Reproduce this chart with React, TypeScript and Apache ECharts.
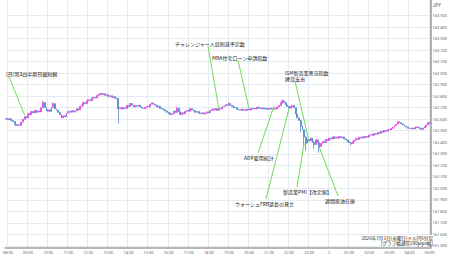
import React, { useEffect, useRef } from 'react';
import * as echarts from 'echarts';

// ---- data ----
const START_MINUTES = 7 * 60 + 55; // first candle 07:55
const STEP_MIN = 5;
const FIRST_OPEN = 162.6;

const CLOSES = [
  162.606, 162.596, 162.604, 162.588, 162.580, 162.556, 162.545, 162.552, 162.548, 162.575,
  162.600, 162.622, 162.612, 162.650, 162.640, 162.668, 162.655, 162.676, 162.660, 162.672,
  162.664, 162.700, 162.745, 162.702, 162.670, 162.682, 162.668, 162.704, 162.735, 162.690,
  162.678, 162.660, 162.640, 162.612, 162.630, 162.620, 162.654, 162.668, 162.660, 162.675,
  162.662, 162.672, 162.690, 162.680, 162.712, 162.722, 162.744, 162.735, 162.760, 162.768,
  162.760, 162.782, 162.790, 162.784, 162.805, 162.812, 162.824, 162.815, 162.822, 162.808,
  162.812, 162.798, 162.804, 162.790, 162.796, 162.782, 162.778, 162.690, 162.700, 162.688,
  162.700, 162.694, 162.718, 162.710, 162.736, 162.722, 162.706, 162.718, 162.712, 162.722,
  162.705, 162.696, 162.690, 162.702, 162.712, 162.706, 162.730, 162.742, 162.730, 162.722,
  162.706, 162.712, 162.694, 162.688, 162.680, 162.672, 162.660, 162.652, 162.640, 162.648,
  162.670, 162.660, 162.695, 162.665, 162.640, 162.656, 162.648, 162.668, 162.676, 162.670,
  162.692, 162.680, 162.674, 162.660, 162.666, 162.654, 162.648, 162.656, 162.645, 162.652,
  162.664, 162.656, 162.676, 162.688, 162.680, 162.692, 162.676, 162.694, 162.688, 162.706,
  162.712, 162.726, 162.718, 162.738, 162.722, 162.710, 162.698, 162.702, 162.684, 162.680,
  162.688, 162.676, 162.684, 162.678, 162.688, 162.680, 162.694, 162.688, 162.696, 162.690,
  162.706, 162.696, 162.690, 162.698, 162.688, 162.694, 162.686, 162.696, 162.690, 162.686,
  162.696, 162.690, 162.706, 162.718, 162.742, 162.760, 162.744, 162.724, 162.710, 162.696,
  162.710, 162.720, 162.700, 162.645, 162.612, 162.590, 162.540, 162.510, 162.445, 162.392,
  162.428, 162.412, 162.436, 162.398, 162.380, 162.422, 162.395, 162.362, 162.390, 162.408,
  162.398, 162.424, 162.416, 162.436, 162.428, 162.448, 162.434, 162.446, 162.436, 162.450,
  162.440, 162.446, 162.428, 162.420, 162.406, 162.398, 162.388, 162.404, 162.418, 162.432,
  162.426, 162.444, 162.436, 162.448, 162.440, 162.452, 162.446, 162.462, 162.468, 162.460,
  162.476, 162.470, 162.484, 162.478, 162.495, 162.488, 162.502, 162.496, 162.510, 162.506,
  162.520, 162.530, 162.545, 162.558, 162.578, 162.570, 162.560, 162.550, 162.540, 162.532,
  162.522, 162.518, 162.524, 162.516, 162.526, 162.534, 162.526, 162.520, 162.512, 162.524,
  162.535, 162.550, 162.572, 162.565,
];

// [candle index, high, low] for visible wicks
const WICKS: [number, number, number][] = [
  [22, 162.762, 162.700],
  [28, 162.748, 162.700],
  [46, 162.755, 162.715],
  [56, 162.830, 162.805],
  [67, 162.782, 162.563],
  [74, 162.742, 162.705],
  [102, 162.705, 162.655],
  [133, 162.745, 162.715],
  [165, 162.772, 162.735],
  [176, 162.585, 162.49],
  [178, 162.51, 162.37],
  [179, 162.45, 162.33],
  [184, 162.41, 162.345],
  [187, 162.42, 162.31],
  [206, 162.40, 162.372],
  [234, 162.585, 162.565],
];

const Y_TICKS = [
  161.5, 161.6, 161.7, 161.8, 161.9, 162.0, 162.1, 162.2, 162.3, 162.4, 162.5,
  162.6, 162.7, 162.8, 162.9, 163.0, 163.1, 163.2, 163.3, 163.4, 163.5,
];

const EVENTS = [
  { time: '08:50', price: 162.635, text: '[日]第2四半期日銀短観' },
  { time: '18:30', price: 162.693, text: 'チャレンジャー人員削減予定数' },
  { time: '20:00', price: 162.693, text: 'MBA住宅ローン申請指数' },
  { time: '23:00', price: 162.403, text: 'ISM製造業景況指数\n建設支出' },
  { time: '21:15', price: 162.715, text: 'ADP雇用統計' },
  { time: '22:00', price: 162.693, text: 'ウォーシュFRB議長の発言' },
  { time: '22:45', price: 162.39, text: '製造業PMI【改定値】' },
  { time: '23:30', price: 162.359, text: '週間原油在庫' },
];

const TITLE_LINES = ['2026年7月1日(水曜日)ドル円5分足', '[グラフ幅通常200pips幅]'];

// label layout in pixels: text top-left, leader line start
const LABEL_LAYOUT = [
  { tx: 6, ty: 70.5, lx: 9, ly: 77 },
  { tx: 175, ty: 40.5, lx: 208, ly: 46 },
  { tx: 212, ty: 54.5, lx: 238, ly: 60 },
  { tx: 285, ty: 70, lx: 295, ly: 81 },
  { tx: 244, ty: 154.5, lx: 258, ly: 153 },
  { tx: 235, ty: 200.5, lx: 266, ly: 199 },
  { tx: 283, ty: 188.5, lx: 297, ly: 187 },
  { tx: 325, ty: 197.5, lx: 338, ly: 196 },
];

function pad(n: number) {
  return n < 10 ? '0' + n : '' + n;
}

export default function App() {
  const ref = useRef<HTMLDivElement>(null);

  useEffect(() => {
    document.body.style.margin = '0';
    if (!ref.current) return;
    const chart = echarts.init(ref.current, undefined, { renderer: 'svg' });

    const times = CLOSES.map((_, i) => {
      const m = (START_MINUTES + i * STEP_MIN) % 1440;
      return pad(Math.floor(m / 60)) + ':' + pad(m % 60);
    });
    const wickMap: Record<number, [number, number]> = {};
    WICKS.forEach(([i, h, l]) => (wickMap[i] = [h, l]));
    const candles = CLOSES.map((c, i) => {
      const o = i === 0 ? FIRST_OPEN : CLOSES[i - 1];
      let hi = Math.max(o, c);
      let lo = Math.min(o, c);
      if (wickMap[i]) {
        hi = Math.max(hi, wickMap[i][0]);
        lo = Math.min(lo, wickMap[i][1]);
      }
      return [o, c, lo, hi];
    });

    const isHour = (_: number, v: string) => v.endsWith(':00');

    chart.setOption({
      animation: false,
      grid: { left: 0, right: 19, top: 0, bottom: 10, containLabel: false },
      xAxis: {
        type: 'category',
        data: times,
        boundaryGap: true,
        axisLine: { show: true, lineStyle: { color: '#b8b8b8', width: 2 } },
        axisTick: { show: false },
        axisLabel: {
          interval: isHour,
          fontSize: 4,
          color: '#666',
          margin: 2.5,
          fontFamily: 'Roboto',
          formatter: (v: string) => (v === '00:00' ? '2' : v),
        },
        splitLine: { show: true, interval: isHour, lineStyle: { color: '#e4ebf1', width: 1 } },
      },
      yAxis: {
        type: 'value',
        position: 'right',
        min: 161.4826,
        max: 163.6345,
        axisLine: { show: true, lineStyle: { color: '#9a9a9a', width: 1.5 } },
        axisTick: { show: false, customValues: Y_TICKS },
        axisLabel: {
          customValues: Y_TICKS,
          fontSize: 4,
          color: '#666',
          margin: 2,
          fontFamily: 'Roboto',
          formatter: (v: number) => v.toFixed(3),
        },
        splitLine: { show: true, lineStyle: { color: '#e4ebf1', width: 1 } },
      },
      series: [
        {
          type: 'candlestick',
          data: candles,
          barWidth: 1.4,
          itemStyle: {
            color: '#ec68ec',
            color0: '#6296d8',
            borderColor: '#dc40e0',
            borderColor0: '#4c84ca',
            borderWidth: 0.75,
          },
        },
      ],
    });

    const graphics: any[] = [];
    EVENTS.forEach((ev, k) => {
      const idx = times.indexOf(ev.time);
      const pt = chart.convertToPixel({ xAxisIndex: 0, yAxisIndex: 0 }, [idx, ev.price]) as number[];
      const lay = LABEL_LAYOUT[k];
      graphics.push({
        type: 'line',
        shape: { x1: lay.lx, y1: lay.ly, x2: pt[0], y2: pt[1] },
        style: { stroke: '#6edd5c', lineWidth: 1 },
        z: 10,
      });
      graphics.push({
        type: 'text',
        x: lay.tx,
        y: lay.ty,
        style: {
          text: ev.text,
          fontSize: 5,
          lineHeight: 5.5,
          fill: '#222',
          fontFamily: 'Noto Sans CJK JP',
          textVerticalAlign: 'top',
        },
        z: 11,
      });
    });
    graphics.push({
      type: 'text',
      x: 433,
      y: 3,
      style: { text: 'JPY', fontSize: 4.5, fill: '#555', fontFamily: 'Roboto', textVerticalAlign: 'top' },
    });
    graphics.push({
      type: 'text',
      x: 433,
      y: 235,
      style: {
        text: TITLE_LINES.join('\n'),
        fontSize: 4.6,
        lineHeight: 5.2,
        fill: '#222',
        align: 'right',
        textAlign: 'right',
        fontFamily: 'Noto Sans CJK JP',
        textVerticalAlign: 'top',
        backgroundColor: '#fff',
      },
      z: 12,
    });
    chart.setOption({ graphic: graphics });

    return () => chart.dispose();
  }, []);

  return <div ref={ref} style={{ width: 450, height: 258 }} />;
}
